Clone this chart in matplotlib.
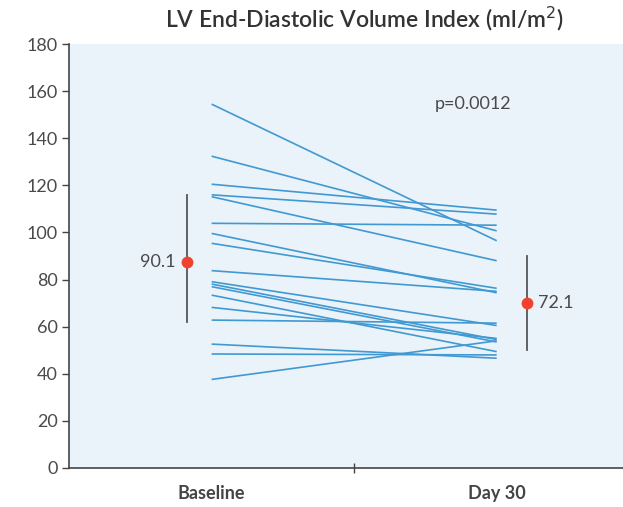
import matplotlib
matplotlib.use("Agg")
import matplotlib.pyplot as plt

plt.rcParams["font.family"] = ["Lato", "DejaVu Sans"]

# paired patient values (ml/m2)
baseline = [154.5, 132.4, 120.5, 116.0, 115.2, 103.9, 99.6, 95.4, 83.8,
            79.1, 78.1, 77.0, 73.4, 68.2, 62.8, 52.6, 48.4, 37.6]
day30 = [96.5, 100.7, 109.5, 107.8, 88.0, 103.1, 74.4, 76.3, 75.0,
         60.5, 54.5, 53.5, 49.4, 55.0, 61.5, 46.6, 48.0, 54.0]

# group summary markers (as drawn) and their labels
mean_pos = [87.5, 70.0]
mean_low = [62.0, 50.0]
mean_high = [116.0, 90.0]
mean_labels = ["90.1", "72.1"]
groups = ["Baseline", "Day 30"]
p_text = "p=0.0012"

fig = plt.figure(figsize=(6.23, 5.07), dpi=100)
ax = fig.add_axes([0.111, 0.077, 0.915, 0.836])
ax.set_facecolor("#eaf2fa")

line_color = "#4199d2"
for b, d in zip(baseline, day30):
    ax.plot([1, 2], [b, d], color=line_color, lw=1.2, solid_capstyle="butt")

# mean +/- spread, offset beside each group
mx = [0.912, 2.105]
for x, m, lo, hi, lab, side in zip(mx, mean_pos, mean_low, mean_high,
                                   mean_labels, [-1, 1]):
    ax.plot([x, x], [lo, hi], color="#555555", lw=1.3)
    ax.plot(x, m, "o", color="#f0422f", ms=8.5, mec="none", zorder=5)
    ax.text(x + side * 0.04, m, lab,
            ha="right" if side < 0 else "left", va="center",
            fontsize=13, color="#4a4a4a")

ax.text(1.916, 154.5, p_text, ha="center", va="center",
        fontsize=13, color="#4a4a4a")

ax.set_xlim(0.5, 2.5)
ax.set_ylim(0, 180)
ax.set_yticks(range(0, 181, 20))
ax.tick_params(axis="y", labelsize=13, labelcolor="#4a4a4a",
               color="#444444", length=5, width=1, pad=3)

ax.set_xticks([1.5])
ax.set_xticklabels([""])
ax.set_xticks([1, 2], minor=True)
ax.set_xticklabels(groups, minor=True)
ax.tick_params(axis="x", which="major", direction="inout", length=7,
               color="#444444", width=1)
ax.tick_params(axis="x", which="minor", length=0, pad=12,
               labelsize=13, labelcolor="#444444")
for lab in ax.get_xticklabels(minor=True):
    lab.set_fontweight("bold")

for s in ["top", "right"]:
    ax.spines[s].set_visible(False)
for s in ["left", "bottom"]:
    ax.spines[s].set_color("#444444")
    ax.spines[s].set_linewidth(1.2)

ax.set_title("LV End-Diastolic Volume Index (ml/m$^2$)", fontsize=16.5,
             fontweight="semibold", color="#333333", pad=12, x=0.518)

fig.savefig("out.png", dpi=100)
